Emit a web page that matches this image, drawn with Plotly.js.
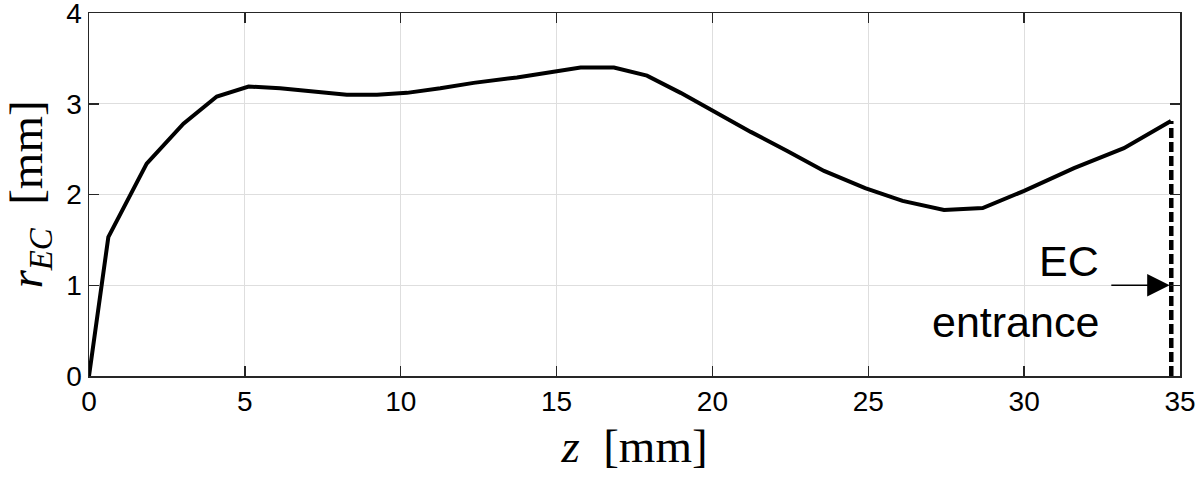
<!DOCTYPE html>
<html>
<head>
<meta charset="utf-8">
<script src="https://cdn.plot.ly/plotly-3.0.1.min.js"></script>
<style>html,body{margin:0;padding:0;background:#fff;}#chart{width:1200px;height:482px;}</style>
</head>
<body>
<div id="chart"></div>
<script>
// z positions along the canal [mm]
var zValues = [0, 0.62, 1.85, 3.03, 4.10, 5.12, 6.13, 7.2, 8.27, 9.24, 10.2, 11.27, 12.34, 13.73, 14.8, 15.77, 16.84, 17.9, 18.98, 20.05, 21.23, 22.4, 23.58, 24.9, 26.1, 27.43, 28.67, 30.0, 31.6, 33.2, 34.71];
// radius r_EC [mm]
var rValues = [0, 1.53, 2.34, 2.78, 3.08, 3.19, 3.17, 3.13, 3.10, 3.10, 3.12, 3.17, 3.23, 3.29, 3.35, 3.40, 3.40, 3.31, 3.12, 2.91, 2.69, 2.48, 2.26, 2.07, 1.93, 1.83, 1.85, 2.04, 2.29, 2.51, 2.81];
// EC entrance marker
var entranceZ = [34.72, 34.72];
var entranceR = [0, 2.81];
var xTicks = [0, 5, 10, 15, 20, 25, 30, 35];
var yTicks = [0, 1, 2, 3, 4];
var arrowR = 1;
var arrowFromZ = 32.7;

var traces = [
  {x: zValues, y: rValues, mode: 'lines', type: 'scatter',
   line: {color: '#000', width: 4}, hoverinfo: 'none', showlegend: false},
  {x: entranceZ, y: entranceR, mode: 'lines', type: 'scatter',
   line: {color: '#000', width: 4.5, dash: '10px,4px'}, hoverinfo: 'none', showlegend: false}
];

var axisCommon = {
  showline: true, linecolor: '#262626', linewidth: 1.5, mirror: 'ticks',
  ticks: 'inside', ticklen: 10, tickwidth: 1.5, tickcolor: '#262626',
  showgrid: true, gridcolor: '#dedede', gridwidth: 1.2, zeroline: false,
  ticklabeloverflow: 'allow',
  tickfont: {family: 'Liberation Sans, Arial, sans-serif', size: 28, color: '#000'}
};

var layout = {
  width: 1200, height: 482,
  margin: {l: 89, r: 20, t: 13, b: 106},
  paper_bgcolor: '#fff', plot_bgcolor: '#fff',
  xaxis: Object.assign({}, axisCommon, {
    range: [0, 35], tickvals: xTicks, ticktext: xTicks.map(String),
    title: {text: '<i>z</i>\u2002[mm]', standoff: 13,
      font: {family: 'Liberation Serif, Times New Roman, serif', size: 47, color: '#000'}}
  }),
  yaxis: Object.assign({}, axisCommon, {
    range: [0, 4], tickvals: yTicks, ticktext: yTicks.map(String),
    title: {text: '<i>r<sub>EC</sub></i>\u2002[mm]', standoff: 12,
      font: {family: 'Liberation Serif, Times New Roman, serif', size: 47, color: '#000'}}
  }),
  annotations: [
    {x: entranceZ[0] - 0.05, y: arrowR, ax: arrowFromZ, ay: arrowR, xref: 'x', yref: 'y', axref: 'x', ayref: 'y',
     showarrow: true, arrowhead: 2, arrowsize: 3, arrowwidth: 1.5, arrowcolor: '#000', text: ' ', standoff: 0},
    {x: 32.47, y: 1.27, xref: 'x', yref: 'y', text: 'EC', showarrow: false,
     xanchor: 'right', yanchor: 'middle',
     font: {family: 'Liberation Sans, Arial, sans-serif', size: 43, color: '#000'}},
    {x: 32.47, y: 0.6, xref: 'x', yref: 'y', text: 'entrance', showarrow: false,
     xanchor: 'right', yanchor: 'middle',
     font: {family: 'Liberation Sans, Arial, sans-serif', size: 43, color: '#000'}}
  ]
};

Plotly.newPlot('chart', traces, layout, {staticPlot: true, displayModeBar: false});
</script>
</body>
</html>
